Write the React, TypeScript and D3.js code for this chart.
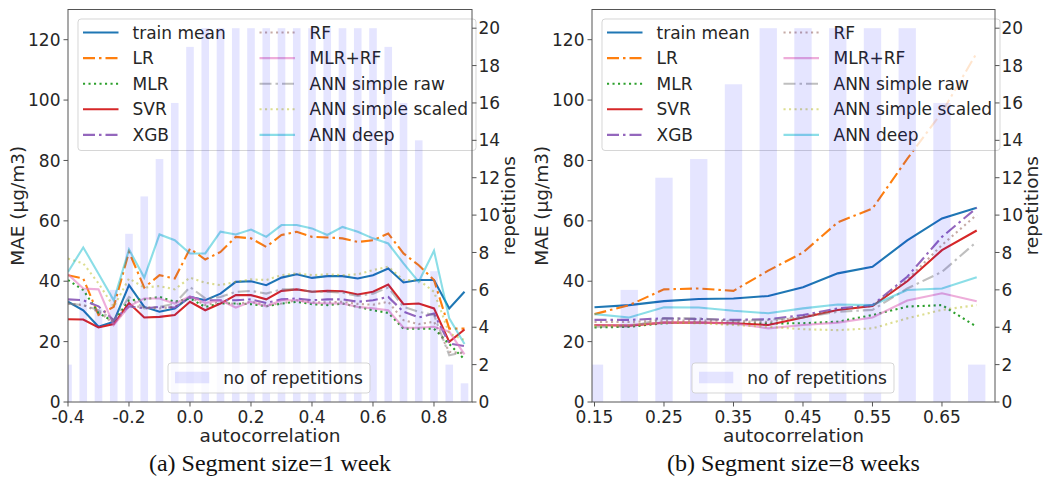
import React from 'react';
import * as d3 from 'd3';

// ---------- data: panel (a) segment size = 1 week ----------
const xWeek1 = [-0.4, -0.35, -0.3, -0.25, -0.2, -0.15, -0.1, -0.05, 0, 0.05, 0.1, 0.15, 0.2, 0.25, 0.3, 0.35, 0.4, 0.45, 0.5, 0.55, 0.6, 0.65, 0.7, 0.75, 0.8, 0.85, 0.9];
const reps1 = [2, 6, 5, 6, 9, 11, 13, 16, 19, 20, 20, 20, 20, 20, 20, 20, 20, 20, 20, 20, 20, 19, 16, 14, 7, 2, 1];
const trainMean1 = [33.2, 30.4, 24.9, 26.6, 38.7, 31.5, 29.9, 31, 34.8, 33.7, 35.9, 39.8, 40, 38.7, 41.2, 42.3, 41.1, 41.7, 41.7, 40.9, 42, 44.2, 39.6, 40.4, 40.4, 31, 36.5];
const lr1 = [42, 40.9, 28.8, 31.5, 49.7, 37.9, 42, 40.9, 50.8, 47.2, 49.7, 54.7, 54.2, 51.4, 55.3, 56.4, 54.7, 54.5, 54.2, 53, 53.6, 55.8, 49.2, 45.3, 40.4, 24.3, 24.3];
const mlr1 = [40.4, 37.1, 29.5, 26.6, 33.7, 34, 34.8, 33.2, 34.3, 31.5, 32.6, 32.6, 32.4, 31.7, 32.6, 33.2, 32.4, 32.1, 32.6, 31.5, 30.4, 29.5, 24.3, 24.3, 24.3, 19.2, 14.1];
const svr1 = [27.4, 27.3, 24.7, 25.8, 32.8, 28, 28.2, 28.8, 33.2, 30.4, 32.6, 35.4, 35.4, 34, 36.8, 37.3, 36.5, 36.8, 36.7, 35.6, 36.5, 38.9, 32.4, 32.6, 31, 19.9, 24];
const xgb1 = [34, 33.7, 31.7, 27.1, 31.7, 31, 31.5, 31.3, 34.8, 33.7, 33.7, 33.7, 34, 32.8, 34, 34.3, 33.7, 34, 34, 33.2, 33.7, 34.8, 29.9, 28, 29.3, 19.4, 18.5];
const rf1 = [32.6, 32.1, 29.9, 26, 31.7, 31.5, 31, 31.5, 34.6, 32.1, 33.2, 32.4, 33.2, 32.1, 32.6, 33.7, 33, 33, 33.2, 32.5, 32.2, 33.2, 27.1, 25.8, 26.6, 16.6, 16.1];
const mlrRf1 = [42.3, 37.6, 37.3, 25.5, 31.7, 34.3, 34.3, 32.6, 35, 32.8, 33.7, 31.3, 33.2, 31.7, 33.7, 33.7, 32.8, 32.6, 32.6, 31.5, 31, 30.4, 24.6, 24.6, 24.9, 23.3, 15.8];
const annRaw1 = [32.6, 32.1, 30.4, 27.1, 34.8, 31, 31.5, 32.6, 38.1, 34.3, 34.8, 36.5, 36.8, 35.9, 37.3, 37.3, 36.5, 36.5, 36.2, 35.1, 35.9, 37.9, 31.5, 29.9, 28.8, 15.5, 16.6];
const annScaled1 = [47.5, 45.9, 39.3, 31.5, 40.9, 37.9, 38.4, 37.3, 41.2, 39.5, 38.7, 39.8, 40.6, 40.4, 42, 42.6, 42, 42.3, 42, 42.3, 43.7, 44.8, 40.4, 40.4, 36.5, 22.7, 20.5];
const annDeep1 = [43.1, 51.2, 42.5, 33.7, 50.5, 41.2, 55.5, 53.6, 49.2, 49.2, 56.4, 55.5, 57.1, 54.7, 58.6, 58.6, 57.5, 55.3, 58, 56.4, 54.2, 52.5, 45.9, 39.8, 50.1, 27.7, 19.2];
const xTicks1 = [-0.4, -0.2, 0.0, 0.2, 0.4, 0.6, 0.8];

// ---------- data: panel (b) segment size = 8 weeks ----------
const xWeek8 = [0.15, 0.2, 0.25, 0.3, 0.35, 0.4, 0.45, 0.5, 0.55, 0.6, 0.65, 0.7];
const reps8 = [2, 6, 12, 13, 17, 20, 20, 20, 20, 20, 16, 2];
const trainMean8 = [31.4, 32.1, 33.4, 34.1, 34.3, 35.1, 38, 42.6, 44.8, 53.5, 60.8, 64.3];
const lr8 = [29.1, 32.1, 37.3, 37.6, 36.8, 43.5, 49.5, 59.5, 64.1, 80.5, 96, 115.6];
const mlr8 = [24.7, 24.9, 26.1, 26.3, 26, 26, 26.1, 26.6, 28.8, 31.6, 32.1, 24.9];
const svr8 = [25.5, 25.3, 26.3, 26.3, 26.1, 25.5, 28, 30.5, 31.8, 40, 50.3, 56.8];
const xgb8 = [27.2, 27.2, 27.7, 27.5, 27.2, 27.4, 28.8, 31, 32.1, 41.5, 54.7, 64.3];
const rf8 = [26.5, 26.5, 27, 27, 26.8, 26.5, 28.3, 30.6, 31.8, 40.5, 52, 62];
const mlrRf8 = [25.5, 25.5, 26.3, 26.3, 26, 24.4, 25.5, 26.3, 28, 33.6, 36, 33.4];
const annRaw8 = [24.9, 24.9, 27.7, 27.7, 26.9, 27.2, 28, 29.9, 30.5, 37.6, 43.1, 53.1];
const annScaled8 = [25.2, 25.5, 26.3, 26.1, 25.5, 24.9, 24.1, 23.8, 24.4, 27.7, 30.5, 32.1];
const annDeep8 = [29.1, 28, 31.4, 31.3, 30.2, 29.4, 31, 32.3, 32.1, 37.1, 37.6, 41.3];
const xTicks8 = [0.15, 0.25, 0.35, 0.45, 0.55, 0.65];

const seriesNames = ['train mean', 'LR', 'MLR', 'SVR', 'XGB', 'RF', 'MLR+RF', 'ANN simple raw', 'ANN simple scaled', 'ANN deep'];
const yTicksMae = [0, 20, 40, 60, 80, 100, 120];
const yTicksReps = [0, 2, 4, 6, 8, 10, 12, 14, 16, 18, 20];

type Style = { color: string; opacity: number; dash?: string };
const DASHDOT = '12,4,2.5,4';
const DOTTED = '2.1,3.4';
const styles: Style[] = [
  { color: '#1f77b4', opacity: 1 },
  { color: '#ff7f0e', opacity: 1, dash: DASHDOT },
  { color: '#2ca02c', opacity: 1, dash: DOTTED },
  { color: '#d62728', opacity: 1 },
  { color: '#9467bd', opacity: 1, dash: DASHDOT },
  { color: '#8c564b', opacity: 0.5, dash: DOTTED },
  { color: '#e377c2', opacity: 0.6 },
  { color: '#7f7f7f', opacity: 0.5, dash: DASHDOT },
  { color: '#bcbd22', opacity: 0.5, dash: DOTTED },
  { color: '#17becf', opacity: 0.5 },
];

const FONT = 'DejaVu Sans, sans-serif';
const TXT = '#262626';
const FS = 17;

type PanelProps = {
  left: number; right: number; top: number; bottom: number;
  xDomain: [number, number];
  xs: number[]; reps: number[]; series: number[][];
  xTicks: number[]; fmt: (v: number) => string;
  caption: string;
};

function Panel(p: PanelProps) {
  const x = d3.scaleLinear().domain(p.xDomain).range([p.left, p.right]);
  const y = d3.scaleLinear().domain([0, 130]).range([p.bottom, p.top]);
  const yr = d3.scaleLinear().domain([0, 21]).range([p.bottom, p.top]);
  const barW = x(0.025) - x(0);
  const clipId = 'clip' + p.left;
  const line = d3.line<number>().x((_, i) => x(p.xs[i])).y((d) => y(d));
  const cx = (p.left + p.right) / 2;
  const cy = (p.top + p.bottom) / 2;
  const tl = 4.5;

  // legend geometry
  const lgX = p.left + 10;
  const lgW = 398;
  const rowY = (i: number) => p.top + 23 + i * 25.6;
  const col = [
    { h0: lgX + 5, h1: lgX + 40.5, t: lgX + 54.5 },
    { h0: lgX + 181.5, h1: lgX + 217, t: lgX + 231.5 },
  ];

  return (
    <g>
      <defs>
        <clipPath id={clipId}>
          <rect x={p.left} y={p.top} width={p.right - p.left} height={p.bottom - p.top} />
        </clipPath>
      </defs>
      {/* lines */}
      <g clipPath={`url(#${clipId})`}>
        {p.series.map((s, i) => (
          <path key={i} d={line(s) || ''} fill="none" stroke={styles[i].color} strokeOpacity={styles[i].opacity}
            strokeWidth={2.1} strokeDasharray={styles[i].dash} />
        ))}
      </g>
      {/* main legend */}
      <rect x={lgX} y={p.top + 9.5} width={lgW} height={131.5} rx={3} fill="white" fillOpacity={0.8} stroke="#cccccc" strokeOpacity={0.8} />
      {seriesNames.map((n, i) => {
        const c = col[i < 5 ? 0 : 1];
        const ry = rowY(i % 5);
        return (
          <g key={n}>
            <line x1={c.h0} x2={c.h1} y1={ry} y2={ry} stroke={styles[i].color} strokeOpacity={styles[i].opacity}
              strokeWidth={2.1} strokeDasharray={styles[i].dash} />
            <text x={c.t} y={ry} dy="0.36em" fontFamily={FONT} fontSize={FS} fill={TXT}>{n}</text>
          </g>
        );
      })}
      {/* bars (twin axis) */}
      <g clipPath={`url(#${clipId})`}>
        {p.reps.map((r, i) => (
          <rect key={i} x={x(p.xs[i]) - barW / 2} y={yr(r)} width={barW} height={yr(0) - yr(r)} fill="rgb(0,0,255)" fillOpacity={0.1} />
        ))}
      </g>
      {/* second legend */}
      <rect x={p.left + 100} y={p.bottom - 39} width={202} height={30} rx={3} fill="white" fillOpacity={0.8} stroke="#cccccc" strokeOpacity={0.8} />
      <rect x={p.left + 107} y={p.bottom - 30.3} width={34.3} height={11.6} fill="rgb(0,0,255)" fillOpacity={0.1} />
      <text x={p.left + 155.3} y={p.bottom - 24.5} dy="0.36em" fontFamily={FONT} fontSize={FS} fill={TXT}>no of repetitions</text>
      {/* frame */}
      <rect x={p.left} y={p.top} width={p.right - p.left} height={p.bottom - p.top} fill="none" stroke="#555" strokeWidth={1} />
      {/* left y axis */}
      {yTicksMae.map((t) => (
        <g key={'l' + t}>
          <line x1={p.left - tl} x2={p.left} y1={y(t)} y2={y(t)} stroke="#555" />
          <text x={p.left - 7.5} y={y(t)} dy="0.36em" textAnchor="end" fontFamily={FONT} fontSize={FS} fill={TXT}>{t}</text>
        </g>
      ))}
      {/* right y axis */}
      {yTicksReps.map((t) => (
        <g key={'r' + t}>
          <line x1={p.right} x2={p.right + tl} y1={yr(t)} y2={yr(t)} stroke="#555" />
          <text x={p.right + 6.5} y={yr(t)} dy="0.36em" fontFamily={FONT} fontSize={FS} fill={TXT}>{t}</text>
        </g>
      ))}
      {/* x axis */}
      {p.xTicks.map((t) => (
        <g key={'x' + t}>
          <line x1={x(t)} x2={x(t)} y1={p.bottom} y2={p.bottom + tl} stroke="#555" />
          <text x={x(t)} y={p.bottom + 21} textAnchor="middle" fontFamily={FONT} fontSize={FS} fill={TXT}>{p.fmt(t)}</text>
        </g>
      ))}
      {/* axis labels */}
      <text x={cx} y={p.bottom + 40} textAnchor="middle" fontFamily={FONT} fontSize={18.5} fill={TXT}>autocorrelation</text>
      <text transform={`translate(${p.left - 51},${cy}) rotate(-90)`} dy="0.36em" textAnchor="middle" fontFamily={FONT} fontSize={18.5} fill={TXT}>MAE (μg/m3)</text>
      <text transform={`translate(${p.right + 36},${cy}) rotate(-90)`} dy="0.36em" textAnchor="middle" fontFamily={FONT} fontSize={18.5} fill={TXT}>repetitions</text>
      {/* caption */}
      <text x={cx} y={471} textAnchor="middle" fontFamily="Liberation Serif, serif" fontSize={24} fill="#111">{p.caption}</text>
    </g>
  );
}

export default function App() {
  const fmt1 = (v: number) => d3.format('.1f')(v).replace('−', '-');
  const fmt2 = (v: number) => d3.format('.2f')(v);
  return (
    <svg width={1048} height={481} style={{ position: 'absolute', left: 0, top: 0, background: 'white' }}>
      <rect width={1048} height={481} fill="white" />
      <Panel left={68} right={472} top={9.5} bottom={402} xDomain={[-0.4, 0.9246]}
        xs={xWeek1} reps={reps1}
        series={[trainMean1, lr1, mlr1, svr1, xgb1, rf1, mlrRf1, annRaw1, annScaled1, annDeep1]}
        xTicks={xTicks1} fmt={fmt1} caption="(a) Segment size=1 week" />
      <Panel left={592} right={995} top={9.5} bottom={402} xDomain={[0.1464, 0.7263]}
        xs={xWeek8} reps={reps8}
        series={[trainMean8, lr8, mlr8, svr8, xgb8, rf8, mlrRf8, annRaw8, annScaled8, annDeep8]}
        xTicks={xTicks8} fmt={fmt2} caption="(b) Segment size=8 weeks" />
    </svg>
  );
}
